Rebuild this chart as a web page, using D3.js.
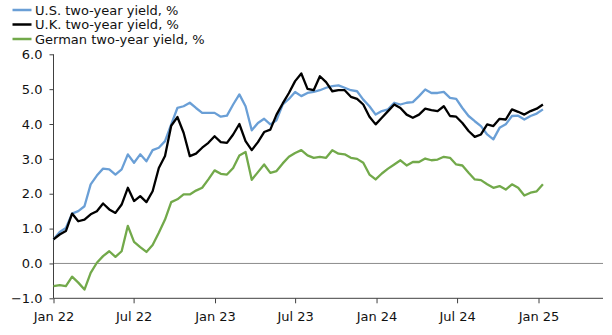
<!DOCTYPE html>
<html>
<head>
<meta charset="utf-8">
<script src="https://cdn.jsdelivr.net/npm/d3@7/dist/d3.min.js"></script>
<style>
  html, body { margin: 0; padding: 0; background: #fff; }
  svg { display: block; font-family: "DejaVu Sans", Verdana, sans-serif; }
</style>
</head>
<body>
<svg id="chart" width="612" height="335"></svg>
<script>
// Two-year government bond yields, %, fortnightly observations from Jan 2022
const startDate = "2022-01-01";
const stepDays = 14;

const usYield = [
  0.69, 0.90, 1.02, 1.43, 1.50, 1.64, 2.27, 2.52, 2.72, 2.70,
  2.55, 2.70, 3.13, 2.89, 3.13, 2.93, 3.25, 3.32, 3.51, 3.99,
  4.46, 4.51, 4.61, 4.46, 4.32, 4.32, 4.32, 4.21, 4.24, 4.56,
  4.85, 4.51, 3.82, 4.03, 4.15, 3.99, 4.11, 4.56, 4.72, 4.92,
  4.80, 4.89, 4.92, 4.97, 5.04, 5.09, 5.11, 5.04, 4.97, 4.94,
  4.70, 4.51, 4.27, 4.37, 4.42, 4.61, 4.56, 4.61, 4.63, 4.80,
  4.99, 4.89, 4.89, 4.92, 4.75, 4.72, 4.46, 4.23, 4.08, 3.94,
  3.70, 3.56, 3.89, 3.99, 4.23, 4.24, 4.13, 4.23, 4.30, 4.42
];

const ukYield = [
  0.69, 0.83, 0.93, 1.43, 1.21, 1.26, 1.41, 1.50, 1.72, 1.55,
  1.45, 1.69, 2.17, 1.79, 1.93, 1.76, 2.07, 2.74, 3.08, 3.95,
  4.20, 3.75, 3.08, 3.15, 3.32, 3.46, 3.65, 3.48, 3.46, 3.70,
  4.00, 3.51, 3.25, 3.48, 3.77, 3.84, 4.27, 4.59, 4.89, 5.23,
  5.45, 5.01, 4.97, 5.37, 5.20, 4.94, 4.97, 4.97, 4.78, 4.72,
  4.56, 4.21, 3.99, 4.18, 4.37, 4.56, 4.46, 4.27, 4.18, 4.27,
  4.44, 4.40, 4.37, 4.51, 4.23, 4.21, 4.03, 3.80, 3.63, 3.70,
  3.99, 3.94, 4.15, 4.13, 4.42, 4.35, 4.27, 4.37, 4.44, 4.56
];

const deYield = [
  -0.65, -0.62, -0.65, -0.38, -0.55, -0.75, -0.27, 0.02, 0.21, 0.35,
  0.19, 0.35, 1.08, 0.62, 0.47, 0.33, 0.53, 0.88, 1.26, 1.76,
  1.84, 1.98, 1.98, 2.09, 2.17, 2.41, 2.67, 2.57, 2.55, 2.74,
  3.10, 3.20, 2.40, 2.62, 2.84, 2.60, 2.65, 2.87, 3.06, 3.17,
  3.25, 3.10, 3.03, 3.06, 3.03, 3.25, 3.15, 3.13, 3.03, 3.00,
  2.89, 2.55, 2.41, 2.58, 2.72, 2.84, 2.96, 2.81, 2.91, 2.91,
  3.01, 2.96, 2.98, 3.06, 3.03, 2.84, 2.81, 2.60, 2.41, 2.39,
  2.27, 2.17, 2.22, 2.12, 2.27, 2.17, 1.95, 2.03, 2.07, 2.27
];

const seriesNames = ["U.S. two-year yield, %", "U.K. two-year yield, %", "German two-year yield, %"];
const seriesColors = ["#6a9fd6", "#000000", "#72a94a"];
const tickDates = ["2022-01-01", "2022-07-01", "2023-01-01", "2023-07-01", "2024-01-01", "2024-07-01", "2025-01-01"];
const yTicks = [-1, 0, 1, 2, 3, 4, 5, 6];

const svg = d3.select("#chart");
const parse = d3.utcParse("%Y-%m-%d");
const start = parse(startDate);
const dates = usYield.map((_, i) => d3.utcDay.offset(start, i * stepDays));

// Plot frame
const plotLeft = 53.5, plotRight = 603, plotTop = 54.3, plotBottom = 298.3;
const fontSize = 13;

const x = d3.scaleUtc()
  .domain([parse("2022-01-01"), parse("2025-01-01")])
  .range([plotLeft, 538.5]);
const y = d3.scaleLinear().domain([-1, 6]).range([plotBottom, plotTop]);

// Zero reference line
svg.append("line")
  .attr("x1", plotLeft).attr("x2", plotRight)
  .attr("y1", y(0)).attr("y2", y(0))
  .attr("stroke", "#8c8c8c").attr("stroke-width", 1);

// Y axis
const yAxis = svg.append("g")
  .attr("transform", `translate(${plotLeft},0)`)
  .call(d3.axisLeft(y).tickValues(yTicks).tickFormat(d3.format(".1f")).tickSize(4).tickPadding(7));
yAxis.select(".domain").attr("stroke", "#404040").attr("d", `M0,${plotTop}V${plotBottom}`);
yAxis.selectAll(".tick line").attr("stroke", "#404040");
yAxis.selectAll("text").attr("font-size", fontSize).attr("fill", "#111").attr("font-family", "DejaVu Sans, Verdana, sans-serif");

// X axis
const xAxis = svg.append("g")
  .attr("transform", `translate(0,${plotBottom})`)
  .call(d3.axisBottom(x).tickValues(tickDates.map(parse)).tickFormat(d3.utcFormat("%b %y")).tickSize(5).tickPadding(8));
xAxis.select(".domain").attr("stroke", "#404040").attr("d", `M${plotLeft},0H${plotRight}`);
xAxis.selectAll(".tick line").attr("stroke", "#404040");
xAxis.selectAll("text").attr("font-size", fontSize).attr("fill", "#111").attr("font-family", "DejaVu Sans, Verdana, sans-serif");

// Lines (German first, then U.S., U.K. on top)
const line = d3.line().x((d, i) => x(dates[i])).y(d => y(d)).curve(d3.curveLinear);
const allSeries = [usYield, ukYield, deYield];
[2, 0, 1].forEach(k => {
  svg.append("path")
    .datum(allSeries[k])
    .attr("d", line)
    .attr("fill", "none")
    .attr("stroke", seriesColors[k])
    .attr("stroke-width", 2.3)
    .attr("stroke-linejoin", "round");
});

// Legend
const legend = svg.append("g");
seriesNames.forEach((name, k) => {
  const ly = 10 + k * 14.5;
  legend.append("line")
    .attr("x1", 12.5).attr("x2", 31.5).attr("y1", ly).attr("y2", ly)
    .attr("stroke", seriesColors[k]).attr("stroke-width", 2.5);
  legend.append("text")
    .attr("x", 35).attr("y", ly).attr("dy", "0.35em")
    .attr("font-size", fontSize).attr("fill", "#111")
    .text(name);
});
</script>
</body>
</html>
